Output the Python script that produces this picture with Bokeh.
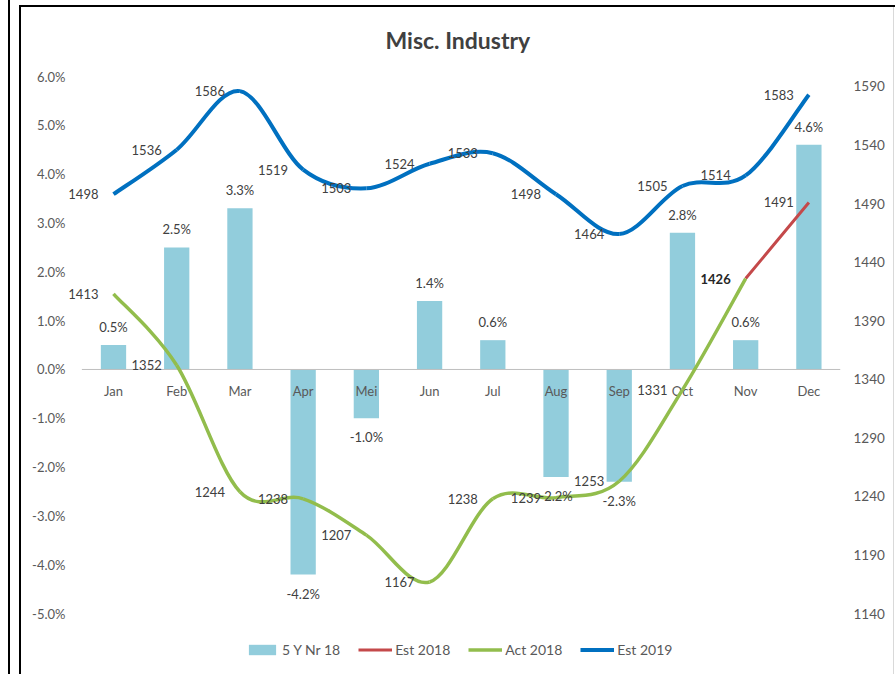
import numpy as np
from bokeh.plotting import figure
from bokeh.models import (Range1d, LinearAxis, FixedTicker, PrintfTickFormatter,
                          ColumnDataSource, Legend, LegendItem)
from bokeh.core.properties import value
from bokeh.embed import file_html
from bokeh.resources import INLINE

# ---------------- data ----------------
months = ["Jan", "Feb", "Mar", "Apr", "Mei", "Jun", "Jul", "Aug", "Sep", "Oct", "Nov", "Dec"]
nr_5y_18 = [0.5, 2.5, 3.3, -4.2, -1.0, 1.4, 0.6, -2.2, -2.3, 2.8, 0.6, 4.6]       # % (left axis)
est_2019 = [1498, 1536, 1586, 1519, 1503, 1524, 1533, 1498, 1464, 1505, 1514, 1583]  # right axis
act_2018 = [1413, 1352, 1244, 1238, 1207, 1167, 1238, 1239, 1253, 1331, 1426, None]
est_2018 = [None, None, None, None, None, None, None, None, None, None, 1426, 1491]
left_ticks = [-5, -4, -3, -2, -1, 0, 1, 2, 3, 4, 5, 6]
right_ticks = [1140, 1190, 1240, 1290, 1340, 1390, 1440, 1490, 1540, 1590]

FONT = "Lato"
TXT = "#404040"
AXT = "#595959"
BAR = "#92CDDC"
BLUE = "#0070C0"
GREEN = "#92BD4C"
RED = "#C4494A"

W, H = 895, 674
p = figure(width=W, height=H, output_backend="svg", toolbar_location=None,
           x_range=Range1d(-0.775, len(months) - 0.5),
           y_range=Range1d(-6.247, left_ticks[-1]),
           x_axis_location=None,
           min_border_left=64, min_border_right=55, min_border_top=75, min_border_bottom=0)
p.extra_y_ranges = {"right": Range1d(1088, 1598.5)}
p.outline_line_color = None
p.xgrid.visible = False
p.ygrid.visible = False
p.border_fill_color = None
p.background_fill_color = "white"
p.styles = {
    "background-color": "white",
    "background-image": ("linear-gradient(#000,#000), linear-gradient(#000,#000), "
                         "linear-gradient(#000,#000), linear-gradient(#D9D9D9,#D9D9D9)"),
    "background-size": "2px 100%, 2px 100%, 100% 2px, 1px 100%",
    "background-position": "8px 0px, 19px 5px, 19px 5px, 893px 5px",
    "background-repeat": "no-repeat",
}

# title
p.title.text = "Misc. Industry"
p.title.align = "left"
p.title.offset = 321
p.title.text_font = FONT
p.title.text_font_size = "23px"
p.title.text_font_style = "bold"
p.title.text_color = TXT
p.title.standoff = 46

# left axis
la = p.yaxis[0]
la.ticker = FixedTicker(ticks=left_ticks)
la.formatter = PrintfTickFormatter(format="%.1f%%")
la.axis_line_color = None
la.major_tick_line_color = None
la.minor_tick_line_color = None
la.major_tick_out = 0
la.major_tick_in = 0
la.major_label_standoff = -1
la.major_label_text_font = FONT
la.major_label_text_font_size = "13px"
la.major_label_text_color = AXT

# right axis
ra = LinearAxis(y_range_name="right", ticker=FixedTicker(ticks=right_ticks))
ra.axis_line_color = None
ra.major_tick_line_color = None
ra.minor_tick_line_color = None
ra.major_tick_out = 0
ra.major_tick_in = 0
ra.major_label_standoff = 13
ra.major_label_text_font = FONT
ra.major_label_text_font_size = "13.5px"
ra.major_label_text_color = AXT
p.add_layout(ra, "right")

xi = np.arange(len(months))

# bars
bar_src = ColumnDataSource(dict(x=xi, top=nr_5y_18,
                                lbl=[f"{v:.1f}%" for v in nr_5y_18],
                                off=[-18 if v >= 0 else 19 for v in nr_5y_18]))
bars = p.vbar(x="x", top="top", bottom=0, width=0.4, source=bar_src,
              fill_color=BAR, line_color=None)

# category axis line at 0%
p.segment(x0=[xi[0] - 0.5], y0=[0], x1=[xi[-1] + 0.5], y1=[0], line_color="#BFBFBF", line_width=1)

# month labels at the zero line
p.text(x=xi, y=[0] * len(months), text=months, y_offset=22,
       text_align="center", text_baseline="middle",
       text_font=value(FONT), text_font_size="13px", text_color=AXT)


def smooth(xs, ys):
    """Bezier segments (Catmull-Rom control points) through the data points."""
    n = len(xs)
    d = dict(x0=[], y0=[], x1=[], y1=[], cx0=[], cy0=[], cx1=[], cy1=[])
    for i in range(n - 1):
        a = i - 1 if i > 0 else i
        b = i + 2 if i + 2 < n else i + 1
        d["x0"].append(xs[i]); d["y0"].append(ys[i])
        d["x1"].append(xs[i + 1]); d["y1"].append(ys[i + 1])
        d["cx0"].append(xs[i] + (xs[i + 1] - xs[a]) / 6.0)
        d["cy0"].append(ys[i] + (ys[i + 1] - ys[a]) / 6.0)
        d["cx1"].append(xs[i + 1] - (xs[b] - xs[i]) / 6.0)
        d["cy1"].append(ys[i + 1] - (ys[b] - ys[i]) / 6.0)
    return ColumnDataSource(d)


def valid(series):
    xs = [i for i, v in enumerate(series) if v is not None]
    ys = [series[i] for i in xs]
    return xs, ys


ex, ey = valid(est_2018)
ax_, ay = valid(act_2018)
bx, by = valid(est_2019)

bz = dict(x0="x0", y0="y0", x1="x1", y1="y1", cx0="cx0", cy0="cy0", cx1="cx1", cy1="cy1",
          y_range_name="right")
r_red = p.bezier(source=smooth(ex, ey), line_color=RED, line_width=3, **bz)
r_green = p.bezier(source=smooth(ax_, ay), line_color=GREEN, line_width=3.5, **bz)
r_blue = p.bezier(source=smooth(bx, by), line_color=BLUE, line_width=4, **bz)

# bar labels
p.text(x="x", y="top", text="lbl", y_offset="off", source=bar_src,
       text_align="center", text_baseline="middle",
       text_font=value(FONT), text_font_size="13px", text_color=TXT)

# line labels (left of the point)
lab_kw = dict(x_offset=-15, text_align="right", text_baseline="middle", y_range_name="right",
              text_font=value(FONT), text_font_size="13px")
p.text(x=bx, y=by, text=[str(v) for v in by], text_color=TXT, **lab_kw)
p.text(x=ax_[:-1], y=ay[:-1], text=[str(v) for v in ay[:-1]], text_color=TXT, **lab_kw)
p.text(x=ax_[-1:], y=ay[-1:], text=[str(v) for v in ay[-1:]], text_font_style="bold",
       text_color="#262626", **lab_kw)
p.text(x=ex[-1:], y=ey[-1:], text=[str(v) for v in ey[-1:]], text_color=TXT, **lab_kw)

# legend at the bottom of the chart
legend = Legend(items=[LegendItem(label="5 Y Nr 18", renderers=[bars]),
                       LegendItem(label="Est 2018", renderers=[r_red]),
                       LegendItem(label="Act 2018", renderers=[r_green]),
                       LegendItem(label="Est 2019", renderers=[r_blue])],
                orientation="horizontal", location=(181, 16),
                label_text_font=FONT, label_text_font_size="14px", label_text_color=AXT,
                glyph_width=34, glyph_height=13, label_standoff=3, spacing=18,
                padding=0, margin=0, border_line_color=None, background_fill_alpha=0)
p.add_layout(legend, "center")

open("out.html", "w").write(file_html(p, INLINE))
